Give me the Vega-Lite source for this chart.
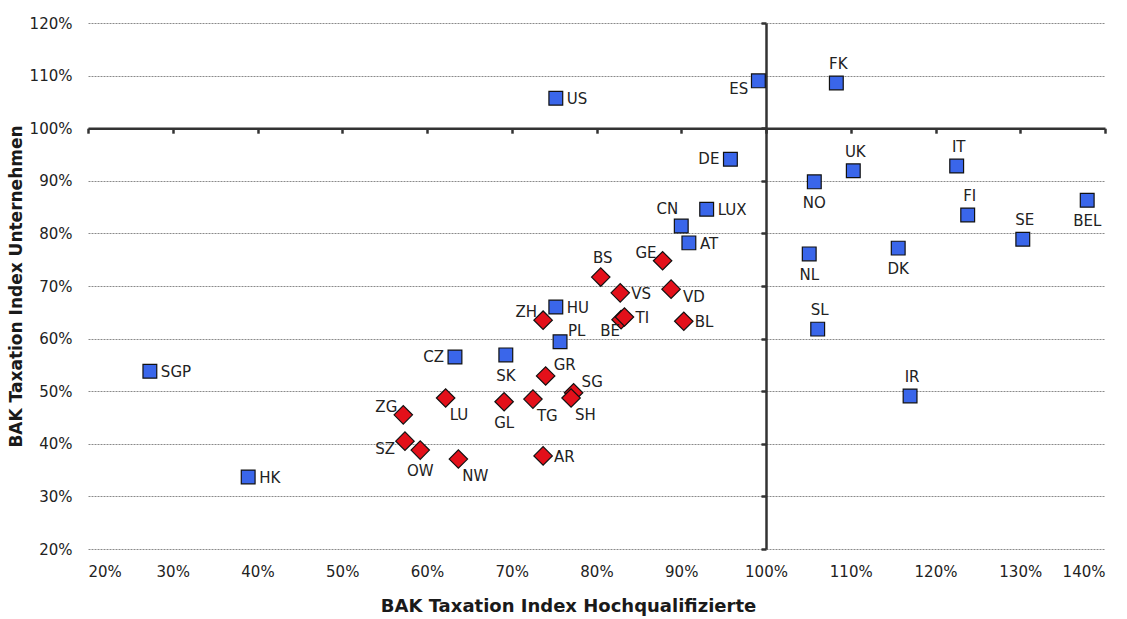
{
  "$schema": "https://vega.github.io/schema/vega-lite/v6.json",
  "width": 1017,
  "height": 526,
  "autosize": {"type": "none"},
  "padding": {"left": 88, "top": 23, "right": 22, "bottom": 70},
  "background": "white",
  "config": {"view": {"stroke": null}, "font": "DejaVu Sans", "text": {"font": "DejaVu Sans"}},
  "data": {
    "values": [
      {"code": "SGP", "hq": 27.3, "unt": 53.8, "gruppe": "Land"},
      {"code": "HK", "hq": 38.9, "unt": 33.7, "gruppe": "Land"},
      {"code": "US", "hq": 75.2, "unt": 105.7, "gruppe": "Land"},
      {"code": "ES", "hq": 99.1, "unt": 109.0, "gruppe": "Land"},
      {"code": "FK", "hq": 108.3, "unt": 108.6, "gruppe": "Land"},
      {"code": "DE", "hq": 95.8, "unt": 94.1, "gruppe": "Land"},
      {"code": "UK", "hq": 110.3, "unt": 91.9, "gruppe": "Land"},
      {"code": "NO", "hq": 105.7, "unt": 89.8, "gruppe": "Land"},
      {"code": "IT", "hq": 122.5, "unt": 92.8, "gruppe": "Land"},
      {"code": "FI", "hq": 123.8, "unt": 83.5, "gruppe": "Land"},
      {"code": "BEL", "hq": 137.9, "unt": 86.3, "gruppe": "Land"},
      {"code": "SE", "hq": 130.3, "unt": 78.9, "gruppe": "Land"},
      {"code": "NL", "hq": 105.1, "unt": 76.1, "gruppe": "Land"},
      {"code": "DK", "hq": 115.6, "unt": 77.2, "gruppe": "Land"},
      {"code": "SL", "hq": 106.1, "unt": 61.8, "gruppe": "Land"},
      {"code": "IR", "hq": 117.0, "unt": 49.1, "gruppe": "Land"},
      {"code": "CN", "hq": 90.0, "unt": 81.4, "gruppe": "Land"},
      {"code": "LUX", "hq": 93.0, "unt": 84.6, "gruppe": "Land"},
      {"code": "AT", "hq": 90.9, "unt": 78.2, "gruppe": "Land"},
      {"code": "HU", "hq": 75.2, "unt": 66.0, "gruppe": "Land"},
      {"code": "PL", "hq": 75.7, "unt": 59.4, "gruppe": "Land"},
      {"code": "CZ", "hq": 63.3, "unt": 56.5, "gruppe": "Land"},
      {"code": "SK", "hq": 69.3, "unt": 56.9, "gruppe": "Land"},
      {"code": "GE", "hq": 87.8, "unt": 74.8, "gruppe": "Kanton"},
      {"code": "BS", "hq": 80.5, "unt": 71.7, "gruppe": "Kanton"},
      {"code": "VS", "hq": 82.8, "unt": 68.7, "gruppe": "Kanton"},
      {"code": "VD", "hq": 88.8, "unt": 69.4, "gruppe": "Kanton"},
      {"code": "ZH", "hq": 73.7, "unt": 63.5, "gruppe": "Kanton"},
      {"code": "BE", "hq": 82.9, "unt": 63.6, "gruppe": "Kanton"},
      {"code": "TI", "hq": 83.3, "unt": 64.1, "gruppe": "Kanton"},
      {"code": "BL", "hq": 90.3, "unt": 63.3, "gruppe": "Kanton"},
      {"code": "GR", "hq": 74.0, "unt": 52.9, "gruppe": "Kanton"},
      {"code": "SG", "hq": 77.3, "unt": 49.7, "gruppe": "Kanton"},
      {"code": "SH", "hq": 77.0, "unt": 48.7, "gruppe": "Kanton"},
      {"code": "TG", "hq": 72.5, "unt": 48.5, "gruppe": "Kanton"},
      {"code": "GL", "hq": 69.1, "unt": 48.0, "gruppe": "Kanton"},
      {"code": "LU", "hq": 62.2, "unt": 48.7, "gruppe": "Kanton"},
      {"code": "ZG", "hq": 57.2, "unt": 45.5, "gruppe": "Kanton"},
      {"code": "SZ", "hq": 57.4, "unt": 40.5, "gruppe": "Kanton"},
      {"code": "OW", "hq": 59.2, "unt": 38.8, "gruppe": "Kanton"},
      {"code": "NW", "hq": 63.7, "unt": 37.1, "gruppe": "Kanton"},
      {"code": "AR", "hq": 73.7, "unt": 37.7, "gruppe": "Kanton"}
    ]
  },
  "resolve": {"axis": {"x": "independent", "y": "independent"}},
  "layer": [
    {
      "transform": [{"filter": "datum.gruppe === 'Land'"}],
      "mark": {"type": "point", "shape": "square", "filled": true, "size": 190, "fill": "#3a66ea", "stroke": "#111111", "strokeWidth": 1.2, "opacity": 1},
      "encoding": {
        "x": {"field": "hq", "type": "quantitative", "scale": {"domain": [20, 140], "nice": false, "zero": false},
          "axis": {"orient": "bottom", "values": [20, 30, 40, 50, 60, 70, 80, 90, 100, 110, 120, 130, 140], "labelExpr": "datum.value + '%'", "domain": false, "ticks": false, "grid": false, "labelPadding": 15, "labelFontSize": 15, "labelColor": "#222222", "labelFont": "DejaVu Sans",
            "title": "BAK Taxation Index Hochqualifizierte", "titleFontSize": 18, "titleFont": "DejaVu Sans", "titleFontWeight": "bold", "titleColor": "#1a1a1a", "titlePadding": 18, "titleX": 480}},
        "y": {"field": "unt", "type": "quantitative", "scale": {"domain": [20, 120], "nice": false, "zero": false},
          "axis": {"orient": "left", "values": [20, 30, 40, 50, 60, 70, 80, 90, 100, 110, 120], "labelExpr": "datum.value + '%'", "domain": false, "ticks": false, "grid": true, "gridColor": "#8a8a8a", "gridDash": [2, 1], "gridWidth": 1, "labelPadding": 16, "labelFontSize": 15, "labelColor": "#222222", "labelFont": "DejaVu Sans",
            "title": "BAK Taxation Index Unternehmen", "titleFontSize": 17, "titleFont": "DejaVu Sans", "titleFontWeight": "bold", "titleColor": "#1a1a1a", "titlePadding": 4}}
      }
    },
    {
      "transform": [{"filter": "datum.gruppe === 'Kanton'"}],
      "mark": {"type": "point", "shape": "diamond", "filled": true, "size": 340, "fill": "#e3101a", "stroke": "#111111", "strokeWidth": 1.2, "opacity": 1},
      "encoding": {
        "x": {"field": "hq", "type": "quantitative",
          "axis": {"orient": "bottom", "offset": -420.8, "values": [20, 30, 40, 50, 60, 70, 80, 90, 100, 110, 120, 130, 140], "labels": false, "title": null, "grid": false, "domain": true, "domainColor": "#333333", "domainWidth": 2.5, "ticks": true, "tickColor": "#333333", "tickWidth": 2.5, "tickSize": 5}},
        "y": {"field": "unt", "type": "quantitative",
          "axis": {"orient": "left", "offset": -678, "values": [20, 30, 40, 50, 60, 70, 80, 90, 100, 110, 120], "labels": false, "title": null, "grid": false, "domain": true, "domainColor": "#333333", "domainWidth": 2.5, "ticks": true, "tickColor": "#333333", "tickWidth": 2.5, "tickSize": 5}}
      }
    },
    {
      "transform": [{"filter": {"field": "code", "oneOf": ["SGP", "HK", "US", "LUX", "AT", "HU", "VS", "TI", "BL", "AR"]}}],
      "mark": {"type": "text", "align": "left", "baseline": "middle", "dx": 11, "dy": 1, "fontSize": 15, "color": "#222222"},
      "encoding": {"x": {"field": "hq", "type": "quantitative", "axis": null}, "y": {"field": "unt", "type": "quantitative", "axis": null}, "text": {"field": "code"}}
    },
    {
      "transform": [{"filter": {"field": "code", "oneOf": ["DE", "CZ"]}}],
      "mark": {"type": "text", "align": "right", "baseline": "middle", "dx": -11, "dy": 0, "fontSize": 15, "color": "#222222"},
      "encoding": {"x": {"field": "hq", "type": "quantitative", "axis": null}, "y": {"field": "unt", "type": "quantitative", "axis": null}, "text": {"field": "code"}}
    },
    {
      "transform": [{"filter": {"field": "code", "oneOf": ["GE", "ZH", "ZG"]}}],
      "mark": {"type": "text", "align": "right", "baseline": "middle", "dx": -6, "dy": -8, "fontSize": 15, "color": "#222222"},
      "encoding": {"x": {"field": "hq", "type": "quantitative", "axis": null}, "y": {"field": "unt", "type": "quantitative", "axis": null}, "text": {"field": "code"}}
    },
    {
      "transform": [{"filter": {"field": "code", "oneOf": ["ES", "SZ"]}}],
      "mark": {"type": "text", "align": "right", "baseline": "middle", "dx": -10, "dy": 8, "fontSize": 15, "color": "#222222"},
      "encoding": {"x": {"field": "hq", "type": "quantitative", "axis": null}, "y": {"field": "unt", "type": "quantitative", "axis": null}, "text": {"field": "code"}}
    },
    {
      "transform": [{"filter": {"field": "code", "oneOf": ["CN"]}}],
      "mark": {"type": "text", "align": "right", "baseline": "middle", "dx": -3, "dy": -17, "fontSize": 15, "color": "#222222"},
      "encoding": {"x": {"field": "hq", "type": "quantitative", "axis": null}, "y": {"field": "unt", "type": "quantitative", "axis": null}, "text": {"field": "code"}}
    },
    {
      "transform": [{"filter": {"field": "code", "oneOf": ["FK", "UK", "IT", "FI", "SE", "SL", "IR", "BS"]}}],
      "mark": {"type": "text", "align": "center", "baseline": "middle", "dx": 2, "dy": -19, "fontSize": 15, "color": "#222222"},
      "encoding": {"x": {"field": "hq", "type": "quantitative", "axis": null}, "y": {"field": "unt", "type": "quantitative", "axis": null}, "text": {"field": "code"}}
    },
    {
      "transform": [{"filter": {"field": "code", "oneOf": ["NO", "NL", "DK", "BEL", "SK", "GL", "OW"]}}],
      "mark": {"type": "text", "align": "center", "baseline": "middle", "dx": 0, "dy": 21, "fontSize": 15, "color": "#222222"},
      "encoding": {"x": {"field": "hq", "type": "quantitative", "axis": null}, "y": {"field": "unt", "type": "quantitative", "axis": null}, "text": {"field": "code"}}
    },
    {
      "transform": [{"filter": {"field": "code", "oneOf": ["PL", "GR", "SG"]}}],
      "mark": {"type": "text", "align": "left", "baseline": "middle", "dx": 8, "dy": -11, "fontSize": 15, "color": "#222222"},
      "encoding": {"x": {"field": "hq", "type": "quantitative", "axis": null}, "y": {"field": "unt", "type": "quantitative", "axis": null}, "text": {"field": "code"}}
    },
    {
      "transform": [{"filter": {"field": "code", "oneOf": ["SH", "TG", "LU", "NW"]}}],
      "mark": {"type": "text", "align": "left", "baseline": "middle", "dx": 4, "dy": 17, "fontSize": 15, "color": "#222222"},
      "encoding": {"x": {"field": "hq", "type": "quantitative", "axis": null}, "y": {"field": "unt", "type": "quantitative", "axis": null}, "text": {"field": "code"}}
    },
    {
      "transform": [{"filter": {"field": "code", "oneOf": ["VD"]}}],
      "mark": {"type": "text", "align": "left", "baseline": "middle", "dx": 12, "dy": 8, "fontSize": 15, "color": "#222222"},
      "encoding": {"x": {"field": "hq", "type": "quantitative", "axis": null}, "y": {"field": "unt", "type": "quantitative", "axis": null}, "text": {"field": "code"}}
    },
    {
      "transform": [{"filter": {"field": "code", "oneOf": ["BE"]}}],
      "mark": {"type": "text", "align": "right", "baseline": "middle", "dx": -1, "dy": 11, "fontSize": 15, "color": "#222222"},
      "encoding": {"x": {"field": "hq", "type": "quantitative", "axis": null}, "y": {"field": "unt", "type": "quantitative", "axis": null}, "text": {"field": "code"}}
    }
  ]
}
